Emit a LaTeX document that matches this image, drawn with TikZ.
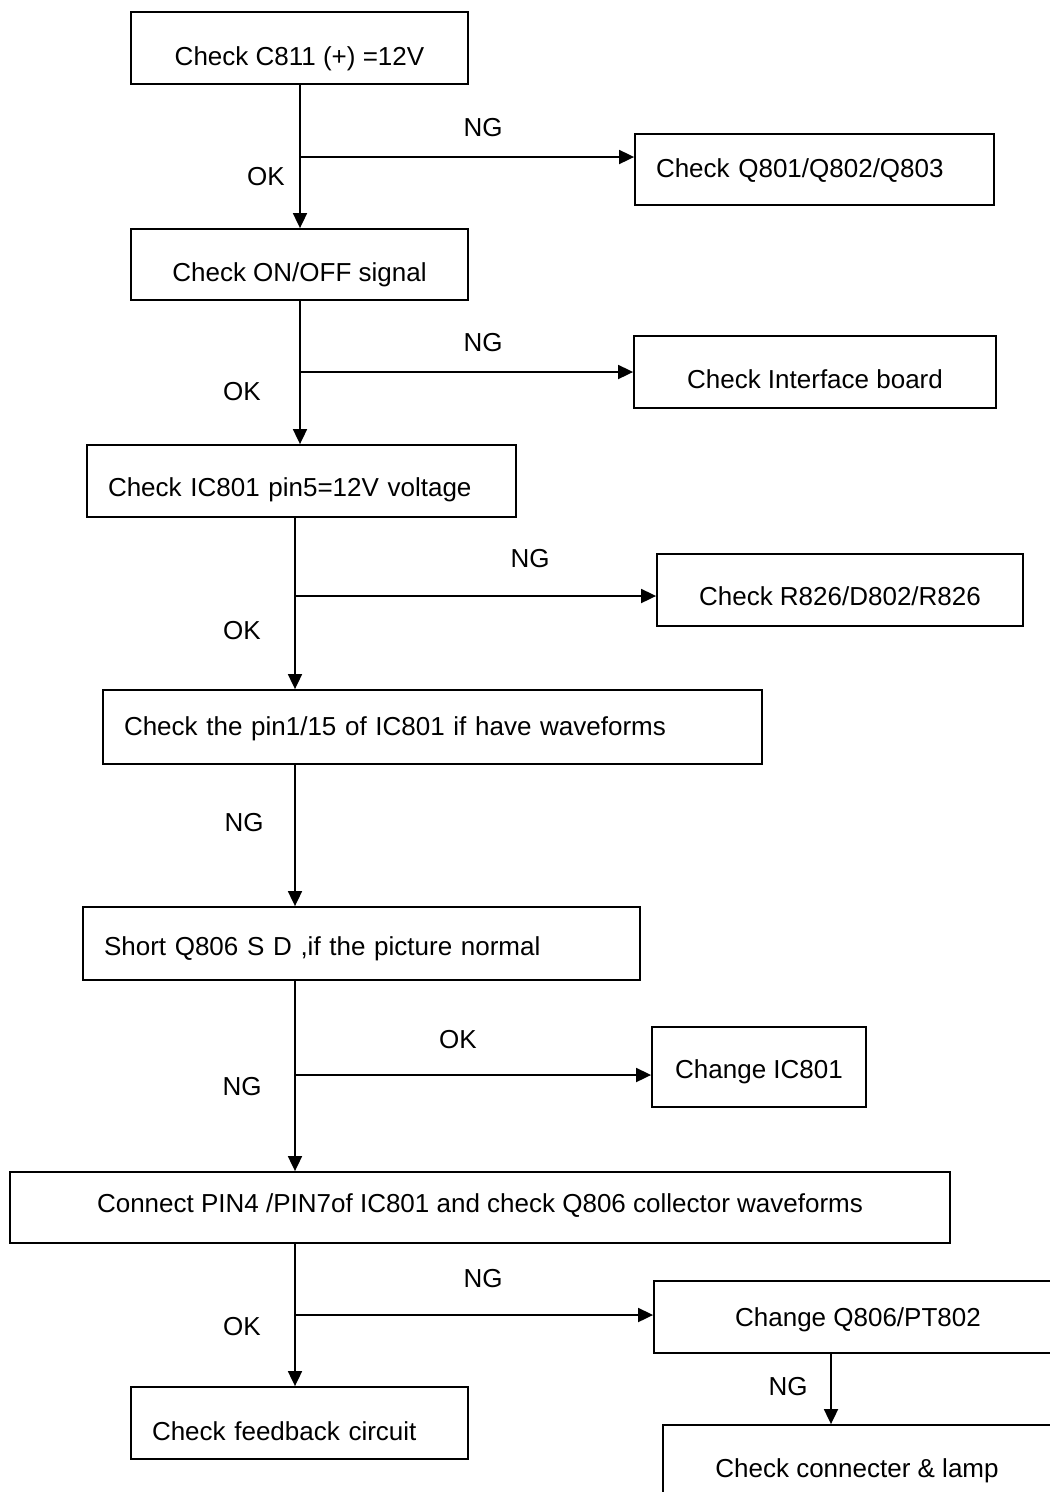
\documentclass[tikz,border=0pt]{standalone}
\usepackage{fontspec}
\setmainfont{Liberation Sans}
\usetikzlibrary{arrows.meta}

\begin{document}
\begin{tikzpicture}
  [
    x                 = 1pt,
    y                 = -1pt,
    every node/.style = {font=\fontsize{26}{31}\selectfont},
    box/.style        = {draw, rectangle, line width=1.8pt, inner sep=0pt, align=center, text depth=0pt},
    leftbox/.style    = {box, align=left, inner xsep=21pt},
    flow/.style       = {draw, line width=1.8pt, -{Triangle[length=15pt, width=14pt]}},
    tag/.style        = {inner sep=0pt, anchor=base}
  ]
  \useasboundingbox (0,0) rectangle (1050,1492);

  \node[box, minimum width=337pt, minimum height=72pt, text height=34.6pt] (c811) at (299.5,48) {Check C811 (+) =12V};
  \node[leftbox, text width=317pt, minimum height=71pt, text height=15.6pt] (q801) at (814.5,169.5) {Check Q801/Q802/Q803};
  \node[box, minimum width=337pt, minimum height=71pt, text height=33.6pt] (onoff) at (299.5,264.5) {Check ON/OFF signal};
  \node[box, minimum width=362pt, minimum height=72pt, text height=32.6pt] (iface) at (815,372) {Check Interface board};
  \node[leftbox, text width=387pt, minimum height=72pt, text height=31.6pt] (pinfive) at (301.5,481) {Check IC801 pin5=12V voltage};
  \node[box, minimum width=366pt, minimum height=72pt, text height=30.6pt] (r826) at (840,590) {Check R826/D802/R826};
  \node[leftbox, text width=617pt, minimum height=74pt, text height=16.6pt] (pinwave) at (432.5,727) {Check the pin1/15 of IC801 if have waveforms};
  \node[leftbox, text width=515pt, minimum height=73pt, text height=23.6pt] (short) at (361.5,943.5) {Short Q806 S D ,if the picture normal};
  \node[box, minimum width=214pt, minimum height=80pt, text height=23.6pt] (change) at (759,1067) {Change IC801};
  \node[box, minimum width=940pt, minimum height=71pt, text height=10.6pt] (connect) at (480,1207.5) {Connect PIN4 /PIN7of IC801 and check Q806 collector waveforms};
  \node[box, minimum width=408pt, minimum height=72pt, text height=18.6pt] (swap) at (858,1317) {Change Q806/PT802};
  \node[leftbox, text width=295pt, minimum height=72pt, text height=34.6pt] (feedback) at (299.5,1423) {Check feedback circuit};
  \node[box, minimum width=388pt, minimum height=86pt, text height=18.6pt] (lamp) at (857,1468) {Check connecter \& lamp};

  \coordinate (j1) at (300,157);
  \coordinate (j2) at (300,372);
  \coordinate (j3) at (295,596);
  \coordinate (j4) at (295,1075);
  \coordinate (j5) at (295,1315);
  \coordinate (j6) at (831,1353);

  \draw[flow] (c811.south -| j1) -- (onoff.north -| j1);
  \draw[flow] (j1) -- (j1 -| q801.west);
  \draw[flow] (onoff.south -| j2) -- (pinfive.north -| j2);
  \draw[flow] (j2) -- (j2 -| iface.west);
  \draw[flow] (pinfive.south -| j3) -- (pinwave.north -| j3);
  \draw[flow] (j3) -- (j3 -| r826.west);
  \draw[flow] (pinwave.south -| j4) -- (short.north -| j4);
  \draw[flow] (short.south -| j4) -- (connect.north -| j4);
  \draw[flow] (j4) -- (j4 -| change.west);
  \draw[flow] (connect.south -| j5) -- (feedback.north -| j5);
  \draw[flow] (j5) -- (j5 -| swap.west);
  \draw[flow] (swap.south -| j6) -- (lamp.north -| j6);

  \node[tag] (ng1) at (483,136.3) {NG};
  \node[tag] (ok1) at (266,185.3) {OK};
  \node[tag] (ng2) at (483,351.3) {NG};
  \node[tag] (ok2) at (242,400.3) {OK};
  \node[tag] (ng3) at (530,567.3) {NG};
  \node[tag] (ok3) at (242,639.3) {OK};
  \node[tag] (ng4) at (244,831.8) {NG};
  \node[tag] (ok4) at (458,1048.3) {OK};
  \node[tag] (ng5) at (242,1095.3) {NG};
  \node[tag] (ng6) at (483,1287.3) {NG};
  \node[tag] (ok5) at (242,1335.8) {OK};
  \node[tag] (ng7) at (788,1395.8) {NG};
\end{tikzpicture}
\end{document}
